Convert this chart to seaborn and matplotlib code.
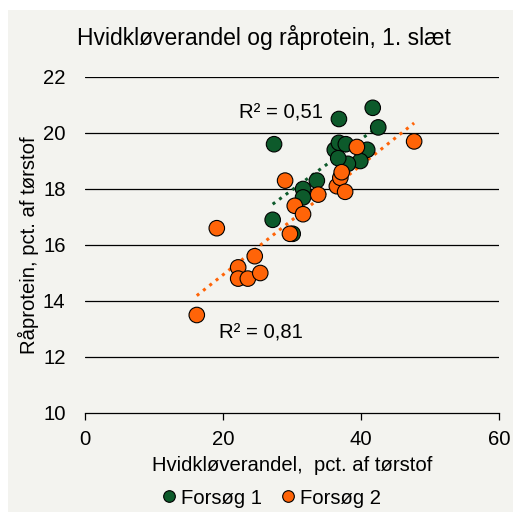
import pandas as pd
import matplotlib.pyplot as plt
import seaborn as sns
from matplotlib.patches import Rectangle

# Forsøg 1 (green) and Forsøg 2 (orange)
f1_x = [27.4, 36.8, 41.7, 42.5, 36.2, 36.8, 37.8, 40.9, 39.9, 38.1, 36.7, 33.6, 31.6, 31.6, 27.2, 30.1]
f1_y = [19.6, 20.5, 20.9, 20.2, 19.4, 19.65, 19.6, 19.4, 19.0, 18.9, 19.1, 18.3, 18.0, 17.7, 16.9, 16.4]
f2_x = [16.2, 19.1, 22.2, 22.2, 23.6, 24.6, 25.4, 29.0, 29.7, 30.4, 31.6, 33.8,
        36.5, 37.0, 37.2, 37.7, 39.4, 47.7]
f2_y = [13.5, 16.6, 15.2, 14.8, 14.8, 15.6, 15.0, 18.3, 16.4, 17.4, 17.1, 17.8,
        18.1, 18.4, 18.6, 17.9, 19.5, 19.7]
series = ['Forsøg 1', 'Forsøg 2']
r2_labels = ['R² = 0,51', 'R² = 0,81']
y_ticks = [10, 12, 14, 16, 18, 20, 22]
x_ticks = [0, 20, 40, 60]

green = '#0D5A2B'
orange = '#FF6408'
bg = '#F3F3EF'
fs = 14.6

df = pd.DataFrame({
    'x': f1_x + f2_x,
    'y': f1_y + f2_y,
    'Forsøg': [series[0]] * len(f1_x) + [series[1]] * len(f2_x),
})

sns.set_style('white', {'text.color': 'black', 'axes.labelcolor': 'black',
                        'xtick.color': 'black', 'ytick.color': 'black'})
plt.rcParams['font.family'] = ['Liberation Sans', 'DejaVu Sans']

fig = plt.figure(figsize=(5.13, 5.12), dpi=100, facecolor='white')
fig.patches.append(Rectangle((8 / 513, 0), 1, 1 - 10 / 512, transform=fig.transFigure,
                             facecolor=bg, edgecolor='none', zorder=-5))
ax = fig.add_axes([85 / 513, 1 - 413 / 512, 414 / 513, 336 / 512])
ax.set_zorder(1)
ax.set_facecolor(bg)

# trend lines
sns.regplot(x=f1_x, y=f1_y, scatter=False, ci=None, truncate=True, ax=ax,
            line_kws=dict(color=green, linestyle=':', linewidth=2.2, zorder=2))
sns.regplot(x=f2_x, y=f2_y, scatter=False, ci=None, truncate=True, ax=ax,
            line_kws=dict(color=orange, linestyle=':', linewidth=2.2, zorder=2))

sns.scatterplot(data=df, x='x', y='y', hue='Forsøg', palette=[green, orange],
                s=125, edgecolor='black', linewidth=0.8, ax=ax, zorder=3)

ax.set_xlim(0, 60)
ax.set_ylim(10, 22)
ax.set_xticks(x_ticks)
ax.set_yticks(y_ticks)
for t in y_ticks[1:]:
    ax.axhline(t, color='black', linewidth=0.9, zorder=1)
ax.tick_params(axis='y', length=0, labelsize=fs, pad=14)
ax.tick_params(axis='x', length=5, width=0.9, color='black', labelsize=fs, pad=7, direction='out')
ax.xaxis.set_ticks_position('bottom')
for side in ['left', 'right', 'top']:
    ax.spines[side].set_visible(False)
ax.spines['bottom'].set_color('black')
ax.spines['bottom'].set_linewidth(0.9)

ax.set_xlabel('Hvidkløverandel,  pct. af tørstof', fontsize=fs, labelpad=5)
ax.set_ylabel('Råprotein, pct. af tørstof', fontsize=fs, labelpad=3)

fig.text(281 / 513, 1 - 113 / 512, r2_labels[0], fontsize=fs, ha='center', va='center')
fig.text(261 / 513, 1 - 333 / 512, r2_labels[1], fontsize=fs, ha='center', va='center')

fig.text(264 / 513, 1 - 37 / 512, 'Hvidkløverandel og råprotein, 1. slæt',
         fontsize=16.5, ha='center', va='center')

handles, labels = ax.get_legend_handles_labels()
ax.legend_.remove()
fig.legend(handles, labels, loc='center', bbox_to_anchor=(269 / 513, 1 - 498 / 512),
           ncol=2, frameon=False, fontsize=fs, handletextpad=0.0, columnspacing=0.7,
           handlelength=1.2, markerscale=0.75)

plt.savefig('out.png', dpi=100, facecolor='white')
